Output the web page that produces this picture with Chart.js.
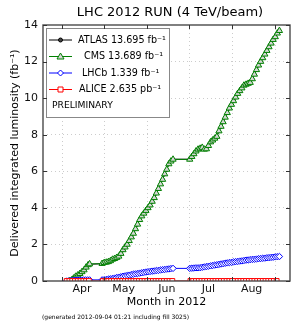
<!DOCTYPE html>
<html><head><meta charset="utf-8">
<script src="https://cdn.jsdelivr.net/npm/chart.js@4/dist/chart.umd.min.js"></script>
<style>html,body{margin:0;padding:0;background:#fff;}canvas{display:block;}</style>
</head><body>
<canvas id="c" width="295" height="321"></canvas>
<script>
// ---- texts ----
const titleText = 'LHC 2012 RUN (4 TeV/beam)';
const yTitle = 'Delivered integrated luminosity (fb\u207B\u00B9)';
const xTitle = 'Month in 2012';
const footerText = '(generated 2012-09-04 01:21 including fill 3025)';
const seriesLabels = ['ATLAS 13.695 fb\u207B\u00B9', 'CMS 13.689 fb\u207B\u00B9', 'LHCb 1.339 fb\u207B\u00B9', 'ALICE 2.635 pb\u207B\u00B9'];
const noteText = 'PRELIMINARY';

// ---- axes (x = days since 1 April 2012) ----
const monthStarts = [0, 30, 61, 91, 122, 153];
const monthMids = [14, 44, 75, 105, 136];
const monthNames = ['Apr', 'May', 'Jun', 'Jul', 'Aug'];
const yTicks = [0, 2, 4, 6, 8, 10, 12, 14];

// ---- data ----
const lumiDays = [5,6.5,8,9.5,11,12.5,14,15.5,17,18.5,19.5,
  28.5,30,31.5,33,34.5,36,37.5,39,40.5,42,43.5,45,46.5,48,49.5,51,52.5,54,55.5,57,58.5,60,61.5,63,64.5,66,67.5,69,70.5,72,73.5,75,76.5,78,79.5,
  91.5,93,94.5,96,97.5,99,100.5,102,103.5,105,106.5,108,109.5,111,112.5,114,115.5,117,118.5,120,121.5,123,124.5,126,127.5,129,130.5,132,133.5,135,136.5,138,139.5,141,142.5,144,145.5,147,148.5,150,151.5,153,154.5,156];
const cmsLumi = [0.00,0.05,0.15,0.25,0.32,0.40,0.50,0.60,0.75,0.88,0.93,
  0.95,1.00,1.02,1.05,1.10,1.18,1.22,1.28,1.35,1.50,1.70,1.85,2.00,2.20,2.40,2.60,2.85,3.10,3.35,3.55,3.70,3.85,4.00,4.15,4.35,4.55,4.80,5.05,5.30,5.55,5.85,6.10,6.40,6.55,6.65,
  6.65,6.80,6.95,7.10,7.20,7.25,7.30,7.20,7.22,7.40,7.60,7.70,7.80,7.90,8.20,8.45,8.70,8.95,9.20,9.45,9.65,9.85,10.05,10.25,10.40,10.55,10.70,10.75,10.80,10.85,11.05,11.30,11.55,11.80,12.00,12.20,12.40,12.60,12.80,13.00,13.20,13.35,13.55,13.689];
const atlasLumi = [0.00,0.06,0.15,0.24,0.33,0.41,0.50,0.61,0.74,0.87,0.92,
  0.94,0.99,1.02,1.06,1.11,1.17,1.23,1.29,1.36,1.49,1.68,1.84,2.01,2.19,2.41,2.61,2.84,3.09,3.34,3.54,3.71,3.86,4.01,4.16,4.34,4.56,4.79,5.04,5.31,5.56,5.84,6.09,6.39,6.56,6.66,
  6.66,6.81,6.96,7.09,7.19,7.26,7.31,7.21,7.23,7.41,7.59,7.71,7.81,7.91,8.19,8.44,8.71,8.96,9.19,9.44,9.66,9.86,10.04,10.26,10.41,10.56,10.71,10.76,10.81,10.86,11.06,11.31,11.56,11.79,12.01,12.21,12.41,12.61,12.81,13.01,13.21,13.36,13.56,13.695];
const lhcbDays = [3,4.5,6,7.5,9,10.5,12,13.5,15,16.5,18,19.5,
  28.5,30,31.5,33,34.5,36,37.5,39,40.5,42,43.5,45,46.5,48,49.5,51,52.5,54,55.5,57,58.5,60,61.5,63,64.5,66,67.5,69,70.5,72,73.5,75,76.5,78,79.5,
  91.5,93,94.5,96,97.5,99,100.5,102,103.5,105,106.5,108,109.5,111,112.5,114,115.5,117,118.5,120,121.5,123,124.5,126,127.5,129,130.5,132,133.5,135,136.5,138,139.5,141,142.5,144,145.5,147,148.5,150,151.5,153,154.5,156];
const lhcbLumi = [0.00,0.01,0.02,0.03,0.04,0.05,0.05,0.05,0.06,0.06,0.06,0.06,
  0.06,0.07,0.08,0.10,0.12,0.14,0.16,0.19,0.21,0.23,0.26,0.28,0.30,0.32,0.35,0.37,0.39,0.41,0.43,0.45,0.47,0.49,0.51,0.52,0.54,0.55,0.57,0.58,0.60,0.62,0.63,0.65,0.66,0.68,0.69,
  0.69,0.70,0.71,0.72,0.72,0.73,0.75,0.77,0.79,0.81,0.83,0.85,0.87,0.89,0.91,0.93,0.95,0.97,0.99,1.01,1.02,1.04,1.06,1.07,1.09,1.10,1.12,1.14,1.15,1.17,1.18,1.19,1.20,1.22,1.23,1.24,1.25,1.27,1.28,1.29,1.30,1.32,1.33,1.339];
const aliceDays = [3,5,7,9,11,13,15,17,19,
  29,31,33,35,37,39,41,43,45,47,49,51,53,55,57,59,61,63,65,67,69,71,73,75,77,79,
  92,94,96,98,100,102,104,106,108,110,112,114,116,118,120,122,124,126,128,130,132,134,136,138,140,142,144,146,148,150,152,154,156];
const aliceLumiPb = [0.00,0.01,0.02,0.03,0.04,0.05,0.06,0.07,0.08,
  0.09,0.11,0.14,0.17,0.20,0.24,0.28,0.32,0.36,0.40,0.44,0.48,0.52,0.56,0.60,0.64,0.68,0.72,0.76,0.80,0.84,0.88,0.92,0.96,1.00,1.03,
  1.04,1.10,1.16,1.22,1.28,1.34,1.40,1.46,1.52,1.58,1.64,1.70,1.76,1.82,1.88,1.94,2.00,2.05,2.10,2.15,2.20,2.25,2.30,2.35,2.40,2.45,2.50,2.54,2.58,2.61,2.63,2.635];

const pts = (d, v, k) => d.map((x, i) => ({x: x, y: v[i] * (k || 1)}));

const FONT = 'DejaVu Sans';

const decor = {
  id: 'decor',
  afterDraw(chart) {
    const c = chart.ctx, a = chart.chartArea;
    const xs = chart.scales.x, ys = chart.scales.y;
    c.save();
    // legend box
    const lx0 = 46, ly0 = 28, lx1 = 169, ly1 = 117;
    c.fillStyle = '#fff';
    c.fillRect(lx0, ly0, lx1 - lx0, ly1 - ly0);
    c.strokeStyle = '#888';
    c.lineWidth = 1;
    c.strokeRect(lx0 + 0.5, ly0 + 0.5, lx1 - lx0, ly1 - ly0);
    const rows = [40, 56.5, 73, 89.5];
    const cols = ['#000000', '#008000', '#0000ff', '#ff0000'];
    const textX = [78, 84, 82, 79];
    rows.forEach((ry, i) => {
      c.strokeStyle = cols[i];
      c.lineWidth = 1;
      c.beginPath(); c.moveTo(49, ry); c.lineTo(72, ry); c.stroke();
      const mx = 60.5;
      c.beginPath();
      if (i === 0) {
        c.arc(mx, ry, 2, 0, Math.PI * 2); c.fillStyle = '#444'; c.fill(); c.stroke();
      } else if (i === 1) {
        c.moveTo(mx, ry - 3.5); c.lineTo(mx + 3.5, ry + 2.5); c.lineTo(mx - 3.5, ry + 2.5); c.closePath();
        c.fillStyle = '#d6d6d6'; c.fill(); c.stroke();
      } else if (i === 2) {
        c.moveTo(mx, ry - 3); c.lineTo(mx + 3, ry); c.lineTo(mx, ry + 3); c.lineTo(mx - 3, ry); c.closePath();
        c.fillStyle = '#fff'; c.fill(); c.stroke();
      } else {
        c.rect(mx - 2.5, ry - 2.5, 5, 5); c.fillStyle = '#fff'; c.fill(); c.stroke();
      }
      c.fillStyle = '#000';
      c.font = '9.6px "' + FONT + '"';
      c.textAlign = 'left'; c.textBaseline = 'middle';
      c.fillText(seriesLabels[i], textX[i], ry);
    });
    c.fillStyle = '#000';
    c.font = '9.2px "' + FONT + '"';
    c.textAlign = 'left'; c.textBaseline = 'middle';
    c.fillText(noteText, 52, 106);

    // frame
    c.strokeStyle = '#4a4a4a';
    c.lineWidth = 1.4;
    c.strokeRect(a.left, a.top, a.right - a.left, a.bottom - a.top);
    // inward ticks
    c.lineWidth = 1;
    c.strokeStyle = '#333';
    c.beginPath();
    yTicks.forEach(v => {
      const py = Math.round(ys.getPixelForValue(v)) + 0.5;
      c.moveTo(a.left, py); c.lineTo(a.left + 4, py);
      c.moveTo(a.right, py); c.lineTo(a.right - 4, py);
    });
    monthStarts.forEach(v => {
      const px = Math.round(xs.getPixelForValue(v)) + 0.5;
      if (px > a.left && px < a.right) {
        c.moveTo(px, a.bottom); c.lineTo(px, a.bottom - 4);
        c.moveTo(px, a.top); c.lineTo(px, a.top + 4);
      }
    });
    c.stroke();

    // titles
    c.fillStyle = '#000';
    c.textAlign = 'center'; c.textBaseline = 'middle';
    c.font = '13px "' + FONT + '"';
    c.fillText(titleText, 170, 13);
    c.font = '11px "' + FONT + '"';
    c.fillText(xTitle, (a.left + a.right) / 2, 302);
    c.save();
    c.translate(15, (a.top + a.bottom) / 2);
    c.rotate(-Math.PI / 2);
    c.fillText(yTitle, 0, 0);
    c.restore();
    c.font = '6px "' + FONT + '"';
    c.textAlign = 'left';
    c.fillText(footerText, 42, 317);
    c.restore();
  }
};

const gridCol = '#cccccc';
new Chart(document.getElementById('c'), {
  type: 'line',
  data: {
    datasets: [
      { label: seriesLabels[0], data: pts(lumiDays, atlasLumi), xAxisID: 'x', yAxisID: 'y', order: 4,
        borderColor: '#000', borderWidth: 1, pointStyle: 'circle', pointRadius: 1.5,
        pointBackgroundColor: '#444', pointBorderColor: '#000', pointBorderWidth: 1 },
      { label: seriesLabels[1], data: pts(lumiDays, cmsLumi), xAxisID: 'x', yAxisID: 'y', order: 3,
        borderColor: '#008000', borderWidth: 1, pointStyle: 'triangle', pointRadius: 3.6,
        pointBackgroundColor: '#d6d6d6', pointBorderColor: '#008000', pointBorderWidth: 1 },
      { label: seriesLabels[2], data: pts(lhcbDays, lhcbLumi), xAxisID: 'x', yAxisID: 'y', order: 2,
        borderColor: '#0000ff', borderWidth: 1, pointStyle: 'rectRot', pointRadius: 3.2,
        pointBackgroundColor: '#fff', pointBorderColor: '#0000ff', pointBorderWidth: 1 },
      { label: seriesLabels[3], data: pts(aliceDays, aliceLumiPb, 0.001), xAxisID: 'x', yAxisID: 'y', order: 1,
        borderColor: '#ff0000', borderWidth: 1, pointStyle: 'rect', pointRadius: 3.4,
        pointBackgroundColor: '#fff', pointBorderColor: '#ff0000', pointBorderWidth: 1 }
    ]
  },
  options: {
    responsive: false,
    animation: false,
    devicePixelRatio: 1,
    layout: { padding: { top: 25, right: 1, left: 0, bottom: 0 } },
    plugins: { legend: { display: false }, title: { display: false }, tooltip: { enabled: false } },
    scales: {
      x: {
        type: 'linear', position: 'bottom', min: -14, max: 163.6,
        afterBuildTicks: s => { s.ticks = monthStarts.map(v => ({ value: v })); },
        ticks: { display: false },
        grid: { color: gridCol, lineWidth: 1, drawTicks: false },
        border: { display: false, dash: [1, 3] },
        afterFit: s => { s.height = 0; }
      },
      xl: {
        type: 'linear', position: 'bottom', min: -14, max: 163.6,
        afterBuildTicks: s => { s.ticks = monthMids.map(v => ({ value: v })); },
        ticks: { autoSkip: false, maxRotation: 0, padding: 2, color: '#111',
          font: { family: FONT, size: 11 },
          callback: (v, i) => monthNames[i] },
        grid: { display: false, drawTicks: false },
        border: { display: false },
        afterFit: s => { s.height = 40; }
      },
      y: {
        min: 0, max: 14,
        afterBuildTicks: s => { s.ticks = yTicks.map(v => ({ value: v })); },
        ticks: { padding: 5, color: '#111', font: { family: FONT, size: 11 } },
        grid: { color: ctx => (ctx.tick && (ctx.tick.value === 0 || ctx.tick.value === 14)) ? 'rgba(0,0,0,0)' : gridCol, drawTicks: false },
        border: { display: false, dash: [1, 3] },
        afterFit: s => { s.width = 43; }
      }
    }
  },
  plugins: [decor]
});
</script>
</body></html>
